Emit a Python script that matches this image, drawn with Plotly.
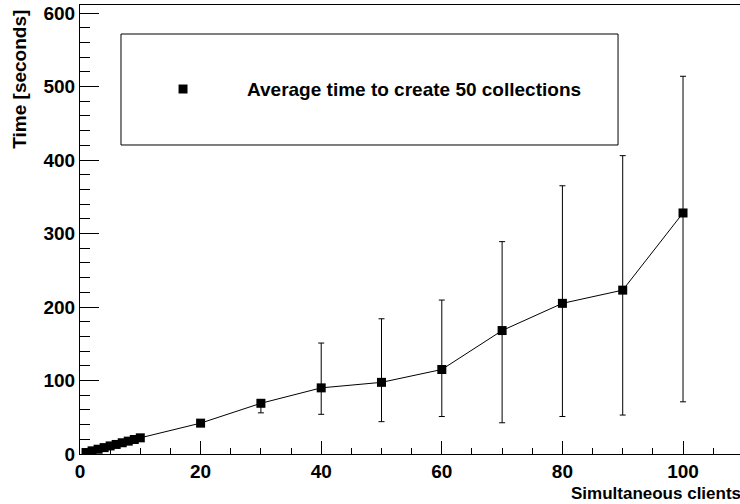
import plotly.graph_objects as go

# ── Data ─────────────────────────────────────────────────────────────────────
clients = [1, 2, 3, 4, 5, 6, 7, 8, 9, 10, 20, 30, 40, 50, 60, 70, 80, 90, 100]
avg_time = [2, 4.3, 6.5, 8.7, 11, 13, 15.3, 17.5, 19.7, 22,
            42, 69, 90, 97.5, 115, 168, 205, 223, 328]
err_up = [0.5, 0.5, 0.5, 0.6, 0.7, 0.8, 0.9, 1, 1, 1.2,
          2, 4, 61, 86.5, 94.5, 121, 160, 183, 186]
err_down = [0.5, 0.5, 0.5, 0.6, 0.7, 0.8, 0.9, 1, 1, 1.2,
            2, 13, 36, 53.5, 64, 125.5, 154, 170, 257]

LEGEND_LABEL = "Average time to create 50 collections"
X_TITLE = "Simultaneous clients"
Y_TITLE = "Time [seconds]"

FONT = "Liberation Sans, Arial, Helvetica, sans-serif"
BLACK = "#000000"

fig = go.Figure()
fig.add_scatter(
    x=clients, y=avg_time, mode="lines+markers",
    line=dict(color=BLACK, width=1),
    marker=dict(symbol="square", size=9, color=BLACK),
    error_y=dict(type="data", symmetric=False, array=err_up, arrayminus=err_down,
                 color=BLACK, thickness=1, width=3),
    showlegend=False,
)

axis_font = dict(family=FONT, size=19, color=BLACK, weight="bold")

fig.update_xaxes(
    range=[0, 109.45], showgrid=False, zeroline=False,
    showline=True, linecolor=BLACK, linewidth=1, mirror=True,
    ticks="inside", ticklen=13, tickcolor=BLACK, dtick=20, tick0=0,
    tickfont=axis_font,
    minor=dict(ticks="inside", ticklen=6, dtick=5, tickcolor=BLACK),
)
fig.update_yaxes(
    range=[0, 611], showgrid=False, zeroline=False,
    showline=True, linecolor=BLACK, linewidth=1,
    ticks="inside", ticklen=19, tickcolor=BLACK, dtick=100, tick0=0,
    tickfont=axis_font,
    minor=dict(ticks="inside", ticklen=10, dtick=20, tickcolor=BLACK),
)

# axis titles, ROOT style (aligned to the axis ends)
fig.add_annotation(text=X_TITLE, xref="paper", yref="paper", x=1.004, y=-0.087,
                   xanchor="right", yanchor="middle", showarrow=False,
                   font=dict(family=FONT, size=17, color=BLACK, weight="bold"))
fig.add_annotation(text=Y_TITLE, xref="paper", yref="paper", x=-0.091, y=0.995,
                   xanchor="center", yanchor="top", textangle=-90, showarrow=False,
                   font=dict(family=FONT, size=19, color=BLACK, weight="bold"))

# legend box drawn by hand
fig.add_shape(type="rect", xref="paper", yref="paper",
              x0=0.0621, x1=0.8152, y0=0.6882, y1=0.9354,
              line=dict(color=BLACK, width=1), fillcolor="white", layer="below")
fig.add_shape(type="rect", xref="paper", yref="paper",
              x0=0.1493, x1=0.1629, y0=0.8029, y1=0.8229,
              line=dict(color=BLACK, width=0), fillcolor=BLACK)
fig.add_annotation(text=LEGEND_LABEL, xref="paper", yref="paper", x=0.250, y=0.8129,
                   xanchor="left", yanchor="middle", showarrow=False,
                   font=dict(family=FONT, size=19, color=BLACK, weight="bold"))

fig.update_layout(
    width=740, height=504,
    margin=dict(l=80, r=0, t=5, b=50),
    paper_bgcolor="white", plot_bgcolor="white",
    font=dict(family=FONT, color=BLACK),
)

fig.write_html("out.html", config={"displayModeBar": False},
               post_script="document.body.style.margin='0';")
